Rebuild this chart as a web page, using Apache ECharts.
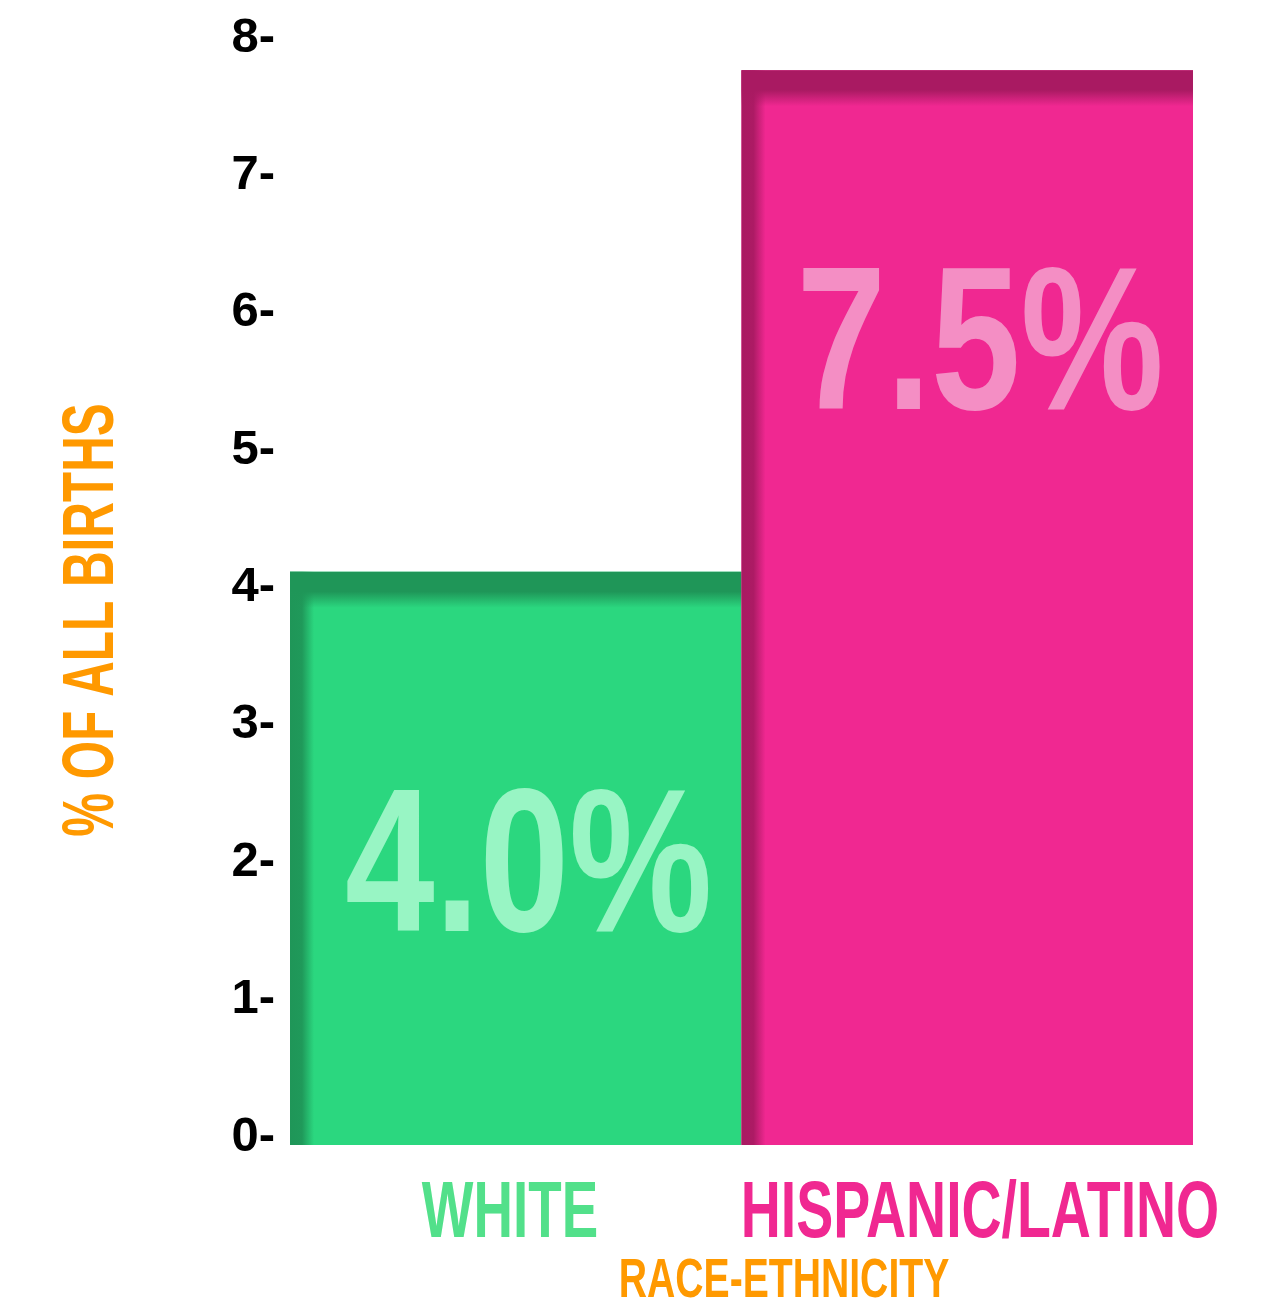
<!DOCTYPE html>
<html>
<head>
<meta charset="utf-8">
<script src="https://cdn.jsdelivr.net/npm/echarts@6/dist/echarts.min.js"></script>
<style>
html,body{margin:0;padding:0;background:#fff;}
#chart{width:1270px;height:1301px;}
</style>
</head>
<body>
<div id="chart"></div>
<script>
// ---- data ----
const categories = ['WHITE', 'HISPANIC/LATINO'];
const values = [4.0, 7.5];
const valueLabels = ['4.0%', '7.5%'];
const yTickMin = 0;
const yTickMax = 8;
const yTickStep = 1;
const yAxisTitle = '% OF ALL BIRTHS';
const xAxisTitle = 'RACE-ETHNICITY';

// ---- styles ----
const barColors = ['#2BD77F', '#F02891'];
const barDark = ['31,150,88', '169,26,98'];
const labelColors = ['#98F5C4', '#F48EC4'];
const catColors = ['#52E08A', '#F02891'];
const orange = '#FF9900';
const sans = '"Liberation Sans", Arial, sans-serif';
const labelDY = [303, 283]; // label centre below bar top (layout)

const chart = echarts.init(document.getElementById('chart'));

function renderBar(params, api) {
  const i = api.value(0);
  const v = api.value(1);
  const top = api.coord([i, v]);
  const base = api.coord([i, 0]);
  const w = api.size([1, 0])[0];
  const x0 = base[0] - w / 2;
  const h = base[1] - top[1];
  const d = barDark[i];
  return {
    type: 'group',
    children: [
      { type: 'rect', shape: { x: x0, y: top[1], width: w, height: h },
        style: { fill: barColors[i] } },
      { type: 'rect', shape: { x: x0, y: top[1], width: 24, height: h },
        style: { fill: new echarts.graphic.LinearGradient(0, 0, 1, 0, [
          { offset: 0, color: 'rgba(' + d + ',1)' },
          { offset: 0.5, color: 'rgba(' + d + ',0.95)' },
          { offset: 1, color: 'rgba(' + d + ',0)' }]) } },
      { type: 'rect', shape: { x: x0, y: top[1], width: w, height: 36 },
        style: { fill: new echarts.graphic.LinearGradient(0, 0, 0, 1, [
          { offset: 0, color: 'rgba(' + d + ',1)' },
          { offset: 0.55, color: 'rgba(' + d + ',1)' },
          { offset: 1, color: 'rgba(' + d + ',0)' }]) } },
      { type: 'text', x: base[0] + 13, y: top[1] + labelDY[i], scaleX: 0.79,
        style: { text: valueLabels[i], fill: labelColors[i],
          font: 'bold 204px ' + sans,
          align: 'center', verticalAlign: 'middle',
          textAlign: 'center', textVerticalAlign: 'middle' } }
    ]
  };
}

function title(text, x, y, size, color, sx, rot) {
  return { type: 'text', x: x, y: y, rotation: rot || 0, scaleX: sx,
    style: { text: text, fill: color, font: 'bold ' + size + 'px ' + sans,
      align: 'center', verticalAlign: 'middle', textAlign: 'center', textVerticalAlign: 'middle' } };
}

const option = {
  backgroundColor: '#ffffff',
  animation: false,
  grid: [
    { left: 290, right: 77, top: 38, bottom: 164 },
    { left: 290, right: 77, top: 48, bottom: 156 }
  ],
  xAxis: [
    { type: 'category', gridIndex: 0, data: categories, show: false },
    { type: 'category', gridIndex: 1, data: categories, show: false }
  ],
  yAxis: [
    { type: 'value', gridIndex: 0, min: yTickMin, max: yTickMax, interval: yTickStep,
      axisLine: { show: false }, axisTick: { show: false }, splitLine: { show: false },
      axisLabel: { formatter: '{value}-', margin: 15, color: '#000',
        fontFamily: sans, fontWeight: 'bold', fontSize: 49 } },
    { type: 'value', gridIndex: 1, min: 0, max: 7.655, show: false,
      splitLine: { show: false } }
  ],
  series: [{
    type: 'custom',
    xAxisIndex: 1, yAxisIndex: 1,
    data: values.map((v, i) => [i, v]),
    renderItem: renderBar,
    encode: { x: 0, y: 1 }
  }],
  graphic: [
    title(yAxisTitle, 93, 620, 72, orange, 0.686, Math.PI / 2),
    title(categories[0], 510, 1215, 80, catColors[0], 0.684),
    title(categories[1], 980, 1215, 80, catColors[1], 0.693),
    title(xAxisTitle, 784, 1282, 56, orange, 0.699)
  ]
};
chart.setOption(option);
</script>
</body>
</html>
